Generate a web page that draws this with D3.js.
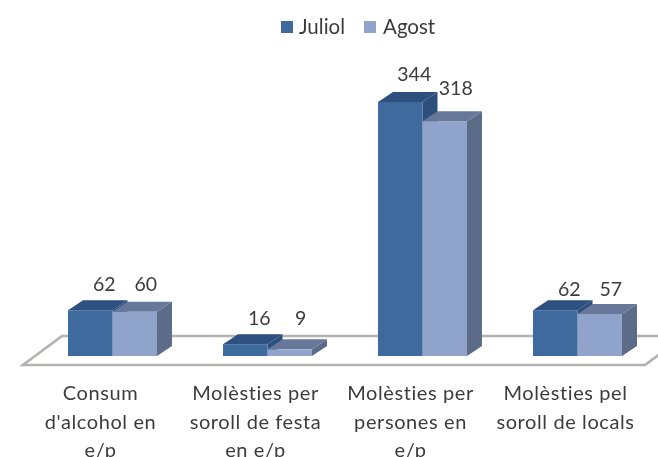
<!DOCTYPE html>
<html><head><meta charset="utf-8">
<style>
html,body{margin:0;padding:0;background:#fff;overflow:hidden}
svg{display:block;filter:blur(0.7px)}
text{font-family:"Lato",sans-serif;fill:#3c3c3c}
</style>
<script src="https://cdn.jsdelivr.net/npm/d3@7/dist/d3.min.js"></script>
</head><body>
<script>
const categories = [
  ["Consum","d'alcohol en","e/p"],
  ["Molèsties per","soroll de festa","en e/p"],
  ["Molèsties per","persones en","e/p"],
  ["Molèsties pel","soroll de locals"]
];
const seriesNames = ["Juliol","Agost"];
const juliol = [62,16,344,62];
const agost  = [60,9,318,57];

const W=658,H=457,DX=15,DY=10;
const svg=d3.select("body").append("svg").attr("width",W).attr("height",H);
const x=d3.scaleBand().domain(d3.range(categories.length)).range([35,655]).paddingInner(0.426).paddingOuter(0.213);
const s=d3.scaleBand().domain(seriesNames).range([0,x.bandwidth()]);
const y=d3.scaleLinear().domain([0,344]).range([356,102]);
const colors={
 Juliol:{front:"#3f6a9e",top:"#2d5080",side:"#2c4e7a"},
 Agost:{front:"#8fa3cb",top:"#667799",side:"#5c6c88"}
};

// floor
const fy=y(0)+9, by=y(0)-20;
svg.append("path")
 .attr("d",`M${x.range()[0]-12},${fy}L${W-13},${fy}L${W+26},${by}L${x.range()[0]+27},${by}Z`)
 .attr("fill","#fff").attr("stroke","#b2b2b0").attr("stroke-width",2.6);

// bars
const seriesData=[juliol,agost];
seriesNames.forEach((name,si)=>{
  const g=svg.append("g").attr("class","series");
  const c=colors[name];
  seriesData[si].forEach((v,i)=>{
    const x0=x(i)+s(name), w=s.bandwidth(), t=y(v), b=y(0);
    g.append("path").attr("fill",c.side)
     .attr("d",`M${x0+w},${t}L${x0+w+DX},${t-DY}L${x0+w+DX},${b-DY}L${x0+w},${b}Z`);
    g.append("path").attr("fill",c.top)
     .attr("d",`M${x0},${t}L${x0+DX},${t-DY}L${x0+w+DX},${t-DY}L${x0+w},${t}Z`);
    g.append("rect").attr("x",x0).attr("y",t).attr("width",w).attr("height",b-t).attr("fill",c.front);
  });
});

// value labels
const labelLift=[[19,19,21,14],[21,24,26,18]];
seriesNames.forEach((name,si)=>{
  seriesData[si].forEach((v,i)=>{
    svg.append("text")
     .attr("x",x(i)+s(name)+s.bandwidth()/2+(si?11:14))
     .attr("y",y(v)-labelLift[si][i])
     .attr("text-anchor","middle").attr("font-size",19.5).text(v);
  });
});

// category labels
categories.forEach((lines,i)=>{
  const t=svg.append("text").attr("text-anchor","middle").attr("font-size",20).attr("letter-spacing",0.6);
  lines.forEach((l,k)=>{
    t.append("tspan").attr("x",x(i)+x.bandwidth()/2-12).attr("y",400+k*28.5).text(l);
  });
});

// legend
const legend=[{sx:281,tx:299},{sx:364,tx:383}];
seriesNames.forEach((name,i)=>{
  svg.append("rect").attr("x",legend[i].sx).attr("y",21).attr("width",12).attr("height",12).attr("fill",colors[name].front);
  svg.append("text").attr("x",legend[i].tx).attr("y",34).attr("font-size",20.5).text(name);
});
</script>
</body></html>
